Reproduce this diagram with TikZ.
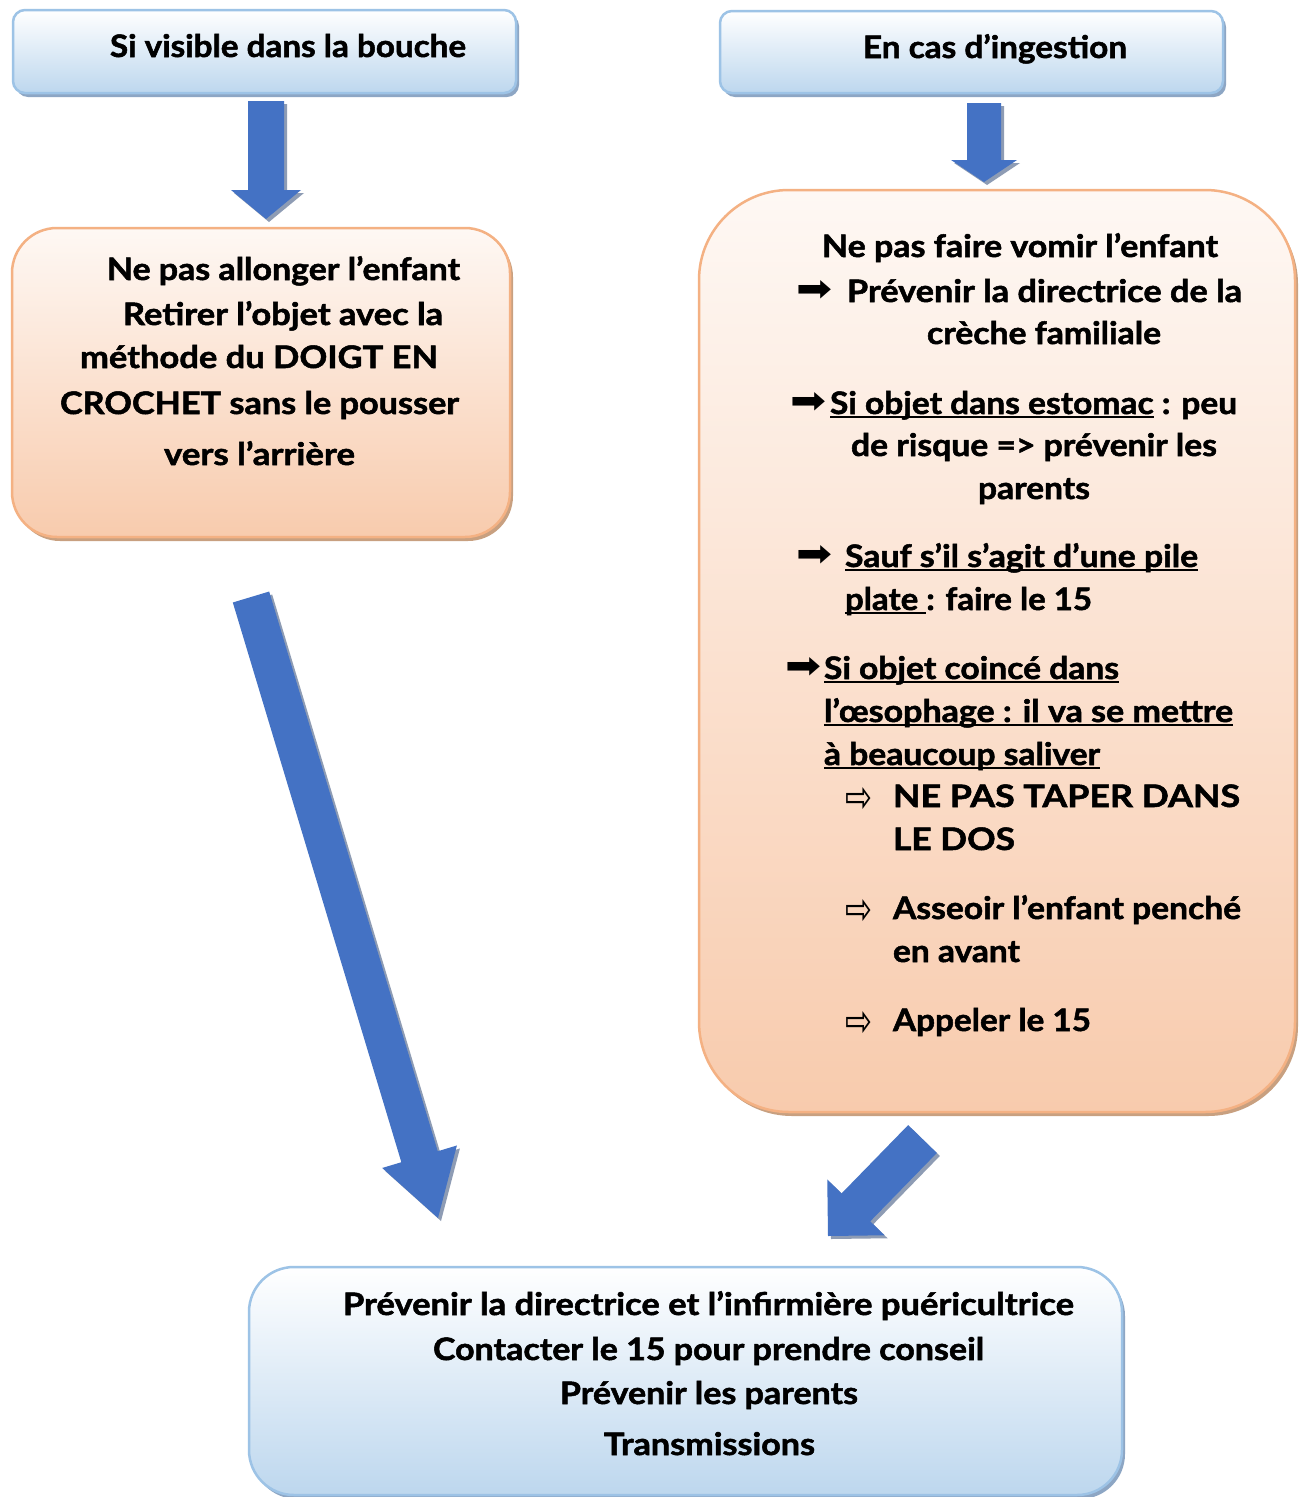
\documentclass[tikz,border=0pt]{standalone}
\usepackage{fontspec}
\setmainfont{Lato}[BoldFeatures={FakeBold=1.6}]
\newfontfamily\symfont{DejaVu Sans}
\usepackage{graphicx}
\usetikzlibrary{calc}
\definecolor{arrowblue}{HTML}{4472C4}
\definecolor{arrowshadow}{HTML}{8E9CB4}
\definecolor{bluebot}{HTML}{BDD7EE}
\definecolor{blueline}{HTML}{9DC3E6}
\definecolor{blueshadow}{HTML}{8DA6C4}
\definecolor{orangetop}{HTML}{FEF8F4}
\definecolor{orangebot}{HTML}{F8CBAD}
\definecolor{orangeline}{HTML}{F4B183}
\definecolor{orangeshadow}{HTML}{C8A080}
\newlength\ulw
\newcommand\myul[1]{\settowidth\ulw{#1}\rlap{\rule[-0.12em]{\ulw}{0.065em}}#1}
\newcommand\fw[2]{\resizebox{#1pt}{\height}{#2}}
\newcommand\blockarrow[6]{%
  \coordinate (hb) at ($(#2)!#5pt!(#1)$);
  \fill[#6] ($(#1)!#3pt!90:(#2)$) -- ($(hb)!#3pt!-90:(#1)$) -- ($(hb)!#4pt!-90:(#1)$) -- (#2) -- ($(hb)!#4pt!90:(#1)$) -- ($(hb)!#3pt!90:(#1)$) -- ($(#1)!#3pt!-90:(#2)$) -- cycle;
}
\begin{document}
\begin{tikzpicture}[x=1pt, y=-1pt,
  txt/.style={font=\fontsize{31}{36}\selectfont\bfseries, inner sep=0pt, outer sep=0pt},
  heavy/.style={font=\fontsize{26}{30}\selectfont\symfont, inner sep=0pt, outer sep=0pt, anchor=center},
  hollow/.style={font=\fontsize{26}{30}\selectfont\symfont, inner sep=0pt, outer sep=0pt, anchor=center},
  bluebox/.style={draw=blueline, line width=2.5pt, rounded corners=12pt, top color=white, bottom color=bluebot,
    preaction={fill=blueshadow, transform canvas={shift={(3pt,-4pt)}}}},
  orangebox/.style={draw=orangeline, line width=2.5pt, top color=orangetop, bottom color=orangebot,
    preaction={fill=orangeshadow, transform canvas={shift={(3pt,-4pt)}}}},
  ashadow/.style={fill=arrowshadow, transform canvas={shift={(3pt,-3pt)}}},
  afill/.style={fill=arrowblue}]
\fill[white] (0,0) rectangle (1300,1497);
\useasboundingbox (0,0) rectangle (1300,1497);

% boxes
\node[bluebox, minimum width=503pt, minimum height=83pt] (tl) at (264.5,51.5) {};
\node[bluebox, minimum width=503pt, minimum height=82pt] (tr) at (971.5,52) {};
\node[orangebox, rounded corners=45pt, minimum width=498pt, minimum height=309pt] (lo) at (261,382.5) {};
\node[orangebox, rounded corners=90pt, minimum width=596pt, minimum height=922pt] (ro) at (997,651) {};
\node[bluebox, rounded corners=45pt, minimum width=873pt, minimum height=228pt] (bb) at (685.5,1381) {};

% arrows
\coordinate (a1s) at (266,101); \coordinate (a1t) at (266,219);
\coordinate (a2s) at (984,103); \coordinate (a2t) at (984,182);
\coordinate (a3s) at (251,597); \coordinate (a3t) at (438,1218);
\coordinate (a4s) at (922.5,1139); \coordinate (a4t) at (828,1236);
\blockarrow{a1s}{a1t}{18}{35}{29}{ashadow}
\blockarrow{a1s}{a1t}{18}{35}{29}{afill}
\blockarrow{a2s}{a2t}{17}{33}{22}{ashadow}
\blockarrow{a2s}{a2t}{17}{33}{22}{afill}
\blockarrow{a3s}{a3t}{19}{39}{64}{ashadow}
\blockarrow{a3s}{a3t}{19}{39}{64}{afill}
\blockarrow{a4s}{a4t}{20}{40}{40}{ashadow}
\blockarrow{a4s}{a4t}{20}{40}{40}{afill}

% top texts
\node[txt, anchor=base] (t1) at (288,57) {\fw{356}{Si visible dans la bouche}};
\node[txt, anchor=base] (t2) at (995,58) {\fw{264}{En cas d’ingestion}};

% left box
\node[txt, anchor=base] (l1) at (283.5,280) {\fw{353}{Ne pas allonger l’enfant}};
\node[txt, anchor=base] (l2) at (283,325) {\fw{320}{Retirer l’objet avec la}};
\node[txt, anchor=base] (l3) at (259,368) {\fw{358}{méthode du DOIGT EN}};
\node[txt, anchor=base] (l4) at (259.5,414) {\fw{399}{CROCHET sans le pousser}};
\node[txt, anchor=base] (l5) at (259.5,465) {\fw{191}{vers l’arrière}};

% right box
\node[txt, anchor=base] (r1) at (1020,257) {\fw{396}{Ne pas faire vomir l’enfant}};
\node[heavy] (r2a) at (814,291) {\resizebox{36pt}{21pt}{➡}};
\node[txt, anchor=base west] (r2) at (847,302) {\fw{395}{Prévenir la directrice de la}};
\node[txt, anchor=base] (r3) at (1044,344) {\fw{234}{crèche familiale}};
\node[heavy] (r4a) at (808,403) {\resizebox{36pt}{21pt}{➡}};
\node[txt, anchor=base west] (r4) at (830,414) {\fw{407}{\myul{Si objet dans estomac} : peu}};
\node[txt, anchor=base] (r5) at (1034,456) {\fw{366}{de risque => prévenir les}};
\node[txt, anchor=base] (r6) at (1034,499) {\fw{112}{parents}};
\node[heavy] (r7a) at (814,556) {\resizebox{36pt}{21pt}{➡}};
\node[txt, anchor=base west] (r7) at (845,567) {\fw{353}{\myul{Sauf s’il s’agit d’une pile}}};
\node[txt, anchor=base west] (r8) at (845,610) {\fw{247}{\myul{plate\ }: faire le 15}};
\node[heavy] (r9a) at (803,668) {\resizebox{36pt}{21pt}{➡}};
\node[txt, anchor=base west] (r9) at (824,679) {\fw{295}{\myul{Si objet coincé dans}}};
\node[txt, anchor=base west] (r10) at (824,722) {\fw{409}{\myul{l’œsophage : il va se mettre}}};
\node[txt, anchor=base west] (r11) at (824,765) {\fw{276}{\myul{à beaucoup saliver}}};
\node[hollow] (r12a) at (858.5,800) {\resizebox{27pt}{25pt}{⇨}};
\node[txt, anchor=base west] (r12) at (893,807) {\fw{347}{NE PAS TAPER DANS}};
\node[txt, anchor=base west] (r13) at (893,850) {\fw{122}{LE DOS}};
\node[hollow] (r14a) at (858.5,912) {\resizebox{27pt}{25pt}{⇨}};
\node[txt, anchor=base west] (r14) at (893,919) {\fw{348}{Asseoir l’enfant penché}};
\node[txt, anchor=base west] (r15) at (893,962) {\fw{127}{en avant}};
\node[hollow] (r16a) at (858.5,1024) {\resizebox{27pt}{25pt}{⇨}};
\node[txt, anchor=base west] (r16) at (893,1031) {\fw{198}{Appeler le 15}};

% bottom box
\node[txt, anchor=base] (b1) at (708.5,1315) {\fw{731}{Prévenir la directrice et l’infirmière puéricultrice}};
\node[txt, anchor=base] (b2) at (708.5,1360) {\fw{551}{Contacter le 15 pour prendre conseil}};
\node[txt, anchor=base] (b3) at (709,1404) {\fw{298}{Prévenir les parents}};
\node[txt, anchor=base] (b4) at (709.5,1455) {\fw{211}{Transmissions}};
\end{tikzpicture}
\end{document}
